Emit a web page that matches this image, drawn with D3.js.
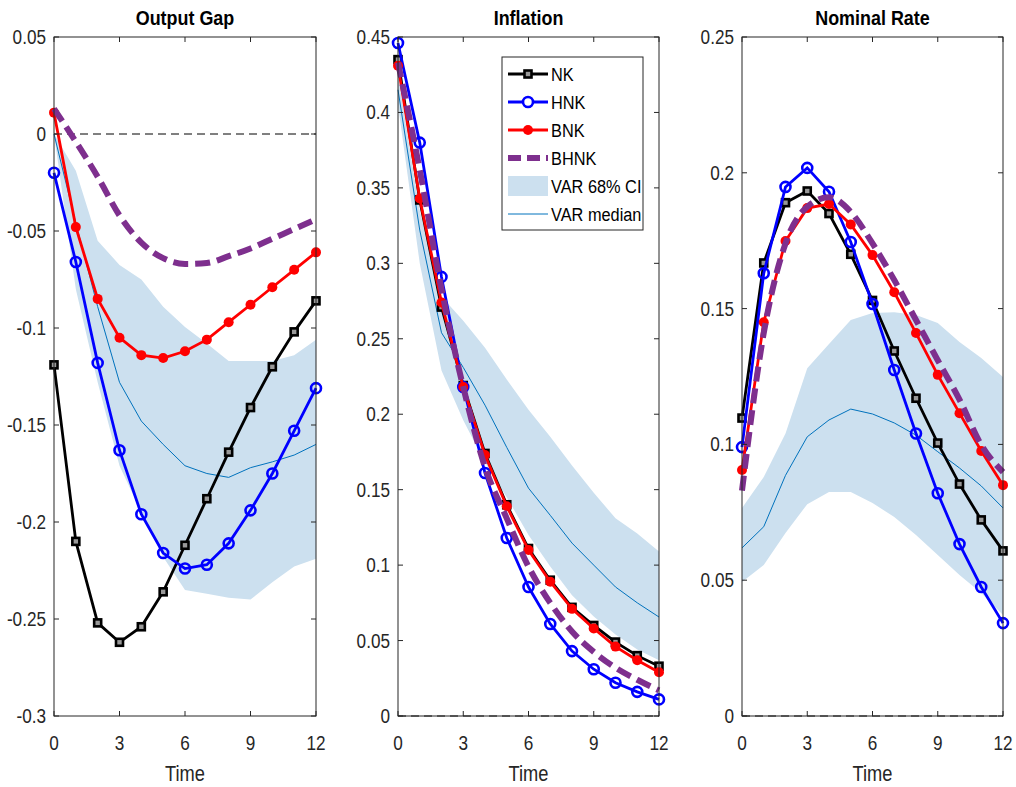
<!DOCTYPE html>
<html>
<head>
<meta charset="utf-8">
<script src="https://cdn.jsdelivr.net/npm/d3@7"></script>
<style>
  body { margin: 0; background: #fff; }
  text { font-family: "Liberation Sans", Arial, sans-serif; }
</style>
</head>
<body>
<div id="chart"></div>
<script>
// horizon 0..12
const time = d3.range(0, 13);
const xTicks = [0, 3, 6, 9, 12];

// Output Gap
const gapNK   = [-0.119, -0.210, -0.252, -0.262, -0.254, -0.236, -0.212, -0.188, -0.164, -0.141, -0.120, -0.102, -0.086];
const gapHNK  = [-0.020, -0.066, -0.118, -0.163, -0.196, -0.216, -0.224, -0.222, -0.211, -0.194, -0.175, -0.153, -0.131];
const gapBNK  = [0.011, -0.048, -0.085, -0.105, -0.114, -0.1155, -0.112, -0.106, -0.097, -0.088, -0.079, -0.070, -0.061];
const gapBHNK = [0.013, -0.004, -0.022, -0.042, -0.056, -0.064, -0.067, -0.0665, -0.063, -0.059, -0.054, -0.049, -0.044];
const gapMed  = [0.000, -0.046, -0.089, -0.128, -0.148, -0.160, -0.171, -0.175, -0.177, -0.172, -0.169, -0.1655, -0.160];
const gapLo   = [0.000, -0.080, -0.128, -0.171, -0.195, -0.218, -0.235, -0.237, -0.239, -0.240, -0.231, -0.223, -0.219];
const gapHi   = [0.000, -0.019, -0.055, -0.0675, -0.075, -0.089, -0.0995, -0.108, -0.117, -0.117, -0.117, -0.114, -0.106];
const gapTicks = [0.05, 0, -0.05, -0.1, -0.15, -0.2, -0.25, -0.3];

// Inflation
const infNK   = [0.435, 0.342, 0.271, 0.219, 0.174, 0.140, 0.111, 0.090, 0.072, 0.060, 0.049, 0.040, 0.033];
const infHNK  = [0.446, 0.380, 0.291, 0.218, 0.161, 0.118, 0.0855, 0.061, 0.043, 0.031, 0.022, 0.016, 0.011];
const infBNK  = [0.431, 0.343, 0.274, 0.218, 0.173, 0.139, 0.110, 0.089, 0.071, 0.058, 0.046, 0.037, 0.029];
const infBHNK = [0.433, 0.362, 0.283, 0.218, 0.165, 0.131, 0.099, 0.075, 0.056, 0.0425, 0.032, 0.024, 0.017];
const infMed  = [0.415, 0.322, 0.254, 0.231, 0.206, 0.178, 0.151, 0.133, 0.1146, 0.100, 0.0855, 0.075, 0.0656];
const infLo   = [0.405, 0.300, 0.229, 0.196, 0.168, 0.145, 0.120, 0.099, 0.080, 0.066, 0.054, 0.044, 0.037];
const infHi   = [0.425, 0.335, 0.278, 0.262, 0.244, 0.223, 0.203, 0.185, 0.166, 0.148, 0.131, 0.121, 0.109];
const infTicks = [0.45, 0.4, 0.35, 0.3, 0.25, 0.2, 0.15, 0.1, 0.05, 0];

// Nominal Rate
const rateNK   = [0.1097, 0.1668, 0.189, 0.1933, 0.185, 0.170, 0.153, 0.1344, 0.117, 0.1005, 0.0854, 0.0722, 0.0608];
const rateHNK  = [0.0990, 0.163, 0.1948, 0.2018, 0.193, 0.1745, 0.1517, 0.1274, 0.104, 0.082, 0.0633, 0.0475, 0.0342];
const rateBNK  = [0.0906, 0.145, 0.1749, 0.187, 0.1885, 0.181, 0.1697, 0.156, 0.141, 0.1256, 0.1115, 0.0976, 0.085];
const rateBHNK = [0.083, 0.141, 0.174, 0.1875, 0.191, 0.1856, 0.174, 0.1605, 0.1458, 0.131, 0.1165, 0.0998, 0.0898];
const rateMed  = [0.0619, 0.0697, 0.0886, 0.1028, 0.109, 0.113, 0.1112, 0.1079, 0.1034, 0.0973, 0.0913, 0.0847, 0.0766];
const rateLo   = [0.0493, 0.0556, 0.0674, 0.078, 0.0825, 0.0825, 0.0784, 0.0733, 0.0666, 0.0593, 0.0519, 0.0453, 0.0372];
const rateHi   = [0.0766, 0.088, 0.104, 0.128, 0.137, 0.1458, 0.1484, 0.1487, 0.1476, 0.1447, 0.1377, 0.1318, 0.1248];
const rateTicks = [0.25, 0.2, 0.15, 0.1, 0.05, 0];

const legendLabels = ["NK", "HNK", "BNK", "BHNK", "VAR 68% CI", "VAR median"];

const colors = { nk: "#000000", hnk: "#0000ff", bnk: "#ff0000", bhnk: "#7e2f8e", med: "#0072bd", ci: "#cce0ef", axis: "#262626" };

const W = 1016, H = 787;
const plotTop = 37, plotBottom = 716;
const lw = 2.8;

const panels = [
  { title: "Output Gap", x0: 54, x1: 316, domain: [-0.3, 0.05], ticks: gapTicks,
    nk: gapNK, hnk: gapHNK, bnk: gapBNK, bhnk: gapBHNK, med: gapMed, lo: gapLo, hi: gapHi },
  { title: "Inflation", x0: 398, x1: 659, domain: [0, 0.45], ticks: infTicks,
    nk: infNK, hnk: infHNK, bnk: infBNK, bhnk: infBHNK, med: infMed, lo: infLo, hi: infHi, legend: true },
  { title: "Nominal Rate", x0: 742, x1: 1003, domain: [0, 0.25], ticks: rateTicks,
    nk: rateNK, hnk: rateHNK, bnk: rateBNK, bhnk: rateBHNK, med: rateMed, lo: rateLo, hi: rateHi }
];

const svg = d3.select("#chart").append("svg")
  .attr("width", W).attr("height", H);

const fmt = v => v === 0 ? "0" : String(+v.toFixed(2));

// condensed text, like the exported figure
const label = (g, x, y, str, size, anchor, sx, bold, fill) =>
  g.append("text")
    .attr("transform", `translate(${x},${y}) scale(${sx},1)`)
    .attr("text-anchor", anchor)
    .attr("font-size", size)
    .attr("font-weight", bold ? "bold" : "normal")
    .attr("fill", fill || colors.axis)
    .text(str);

const square = (g, cx, cy) => g.append("rect")
  .attr("x", cx - 3.5).attr("y", cy - 3.5).attr("width", 7).attr("height", 7)
  .attr("fill", "#999").attr("stroke", colors.nk).attr("stroke-width", 2.6);

panels.forEach(p => {
  const x = d3.scaleLinear().domain([0, 12]).range([p.x0, p.x1]);
  const y = d3.scaleLinear().domain(p.domain).range([plotBottom, plotTop]);
  const g = svg.append("g");

  // band
  g.append("path")
    .datum(time)
    .attr("fill", colors.ci)
    .attr("d", d3.area().x(t => x(t)).y0(t => y(p.lo[t])).y1(t => y(p.hi[t])));

  // zero line
  g.append("line")
    .attr("x1", x(0)).attr("x2", x(12))
    .attr("y1", y(0)).attr("y2", y(0))
    .attr("stroke", "#000").attr("stroke-width", 1)
    .attr("stroke-dasharray", "8,5");

  const line = arr => d3.line().x(t => x(t)).y(t => y(arr[t]))(time);

  // VAR median
  g.append("path").attr("d", line(p.med))
    .attr("fill", "none").attr("stroke", colors.med).attr("stroke-width", 1);

  // NK
  g.append("path").attr("d", line(p.nk))
    .attr("fill", "none").attr("stroke", colors.nk).attr("stroke-width", lw);
  time.forEach(t => square(g, x(t), y(p.nk[t])));

  // HNK
  g.append("path").attr("d", line(p.hnk))
    .attr("fill", "none").attr("stroke", colors.hnk).attr("stroke-width", lw);
  g.selectAll(".oc").data(time).enter().append("circle")
    .attr("cx", t => x(t)).attr("cy", t => y(p.hnk[t])).attr("r", 5)
    .attr("fill", "none").attr("stroke", colors.hnk).attr("stroke-width", 2.6);

  // BNK
  g.append("path").attr("d", line(p.bnk))
    .attr("fill", "none").attr("stroke", colors.bnk).attr("stroke-width", lw);
  g.selectAll(".fc").data(time).enter().append("circle")
    .attr("cx", t => x(t)).attr("cy", t => y(p.bnk[t])).attr("r", 5)
    .attr("fill", colors.bnk);

  // BHNK
  g.append("path").attr("d", d3.line().curve(d3.curveMonotoneX).x(t => x(t)).y(t => y(p.bhnk[t]))(time))
    .attr("fill", "none").attr("stroke", colors.bhnk).attr("stroke-width", 6)
    .attr("stroke-dasharray", "15,7");

  // axes box
  g.append("rect")
    .attr("x", p.x0).attr("y", plotTop)
    .attr("width", p.x1 - p.x0).attr("height", plotBottom - plotTop)
    .attr("fill", "none").attr("stroke", colors.axis).attr("stroke-width", 1);

  // y ticks (left & right, inward)
  p.ticks.forEach(v => {
    const yy = y(v);
    g.append("line").attr("x1", p.x0).attr("x2", p.x0 + 5).attr("y1", yy).attr("y2", yy)
      .attr("stroke", colors.axis);
    g.append("line").attr("x1", p.x1).attr("x2", p.x1 - 5).attr("y1", yy).attr("y2", yy)
      .attr("stroke", colors.axis);
    label(g, p.x0 - 8, yy + 7, fmt(v), 19.5, "end", 0.88);
  });

  // x ticks (bottom & top)
  xTicks.forEach(t => {
    const xx = x(t);
    g.append("line").attr("x1", xx).attr("x2", xx).attr("y1", plotBottom).attr("y2", plotBottom - 5)
      .attr("stroke", colors.axis);
    g.append("line").attr("x1", xx).attr("x2", xx).attr("y1", plotTop).attr("y2", plotTop + 5)
      .attr("stroke", colors.axis);
    label(g, xx, plotBottom + 34, t, 19.5, "middle", 0.88);
  });

  // title and label
  label(g, (p.x0 + p.x1) / 2, 25, p.title, 19.5, "middle", 0.92, true, "#000");
  label(g, (p.x0 + p.x1) / 2, 781, "Time", 21.5, "middle", 0.85);

  if (p.legend) drawLegend(g);
});

function drawLegend(g) {
  const lx = 502, ly = 57, w = 141, h = 173, rowH = 28;
  g.append("rect").attr("x", lx).attr("y", ly).attr("width", w).attr("height", h)
    .attr("fill", "#fff").attr("stroke", colors.axis).attr("stroke-width", 1);

  legendLabels.forEach((txt, i) => {
    const cy = ly + 17 + i * rowH;
    const a = lx + 6, b = lx + 46, mid = (a + b) / 2;
    if (i === 0) {
      g.append("line").attr("x1", a).attr("x2", b).attr("y1", cy).attr("y2", cy)
        .attr("stroke", colors.nk).attr("stroke-width", lw);
      square(g, mid, cy);
    } else if (i === 1) {
      g.append("line").attr("x1", a).attr("x2", b).attr("y1", cy).attr("y2", cy)
        .attr("stroke", colors.hnk).attr("stroke-width", lw);
      g.append("circle").attr("cx", mid).attr("cy", cy).attr("r", 5)
        .attr("fill", "#fff").attr("stroke", colors.hnk).attr("stroke-width", 2.6);
    } else if (i === 2) {
      g.append("line").attr("x1", a).attr("x2", b).attr("y1", cy).attr("y2", cy)
        .attr("stroke", colors.bnk).attr("stroke-width", lw);
      g.append("circle").attr("cx", mid).attr("cy", cy).attr("r", 5).attr("fill", colors.bnk);
    } else if (i === 3) {
      g.append("line").attr("x1", a).attr("x2", b).attr("y1", cy).attr("y2", cy)
        .attr("stroke", colors.bhnk).attr("stroke-width", 6).attr("stroke-dasharray", "13,6");
    } else if (i === 4) {
      g.append("rect").attr("x", a).attr("y", cy - 10).attr("width", b - a).attr("height", 20)
        .attr("fill", colors.ci);
    } else {
      g.append("line").attr("x1", a).attr("x2", b).attr("y1", cy).attr("y2", cy)
        .attr("stroke", colors.med).attr("stroke-width", 1);
    }
    label(g, b + 3, cy + 7, txt, 19, "start", 0.86, false, "#000");
  });
}
</script>
</body>
</html>
